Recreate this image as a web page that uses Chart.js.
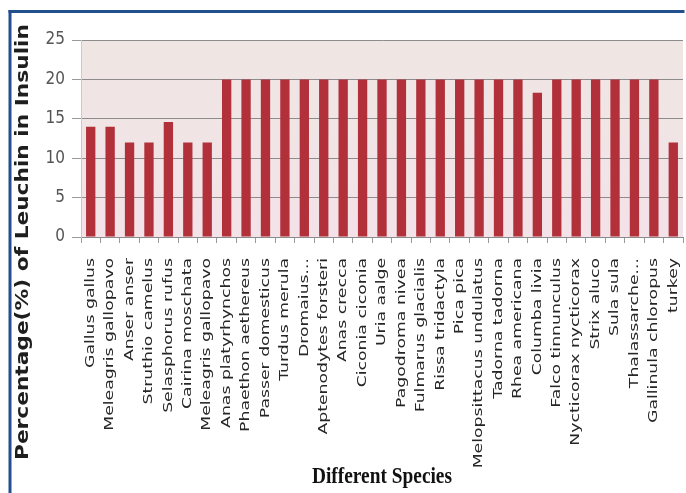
<!DOCTYPE html>
<html>
<head>
<meta charset="utf-8">
<script src="https://cdn.jsdelivr.net/npm/chart.js@4/dist/chart.umd.min.js"></script>
<style>
  html, body { margin: 0; padding: 0; background: #ffffff; overflow: hidden; }
  #wrap { width: 686px; height: 493px; position: relative; }
  #c { display: block; }
</style>
</head>
<body>
<div id="wrap"><canvas id="c" width="686" height="493"></canvas></div>
<script>
// Species along the x axis
const species = [
  "Gallus gallus", "Meleagris gallopavo", "Anser anser", "Struthio camelus",
  "Selasphorus rufus", "Cairina moschata", "Meleagris gallopavo", "Anas platyrhynchos",
  "Phaethon aethereus", "Passer domesticus", "Turdus merula", "Dromaius...",
  "Aptenodytes forsteri", "Anas crecca", "Ciconia ciconia", "Uria aalge",
  "Pagodroma nivea", "Fulmarus glacialis", "Rissa tridactyla", "Pica pica",
  "Melopsittacus undulatus", "Tadorna tadorna", "Rhea americana", "Columba livia",
  "Falco tinnunculus", "Nycticorax nycticorax", "Strix aluco", "Sula sula",
  "Thalassarche...", "Gallinula chloropus", "turkey"
];

// Leucine share in insulin (%)
const leucinePercent = [
  14, 14, 12, 12, 14.6, 12, 12, 20,
  20, 20, 20, 20, 20, 20, 20, 20,
  20, 20, 20, 20, 20, 20, 20, 18.3,
  20, 20, 20, 20, 20, 20, 12
];

// Value axis ticks
const yTicks = [0, 5, 10, 15, 20, 25];

const yTitle = "Percentage(%) of Leuchin in Insulin";
const xTitle = "Different Species";

const narrowFont = '"Liberation Sans Narrow", "DejaVu Sans Condensed", "Liberation Sans", sans-serif';

// Page frame, plot background, species labels and the two axis titles
const decor = {
  id: 'decor',
  beforeDraw(chart) {
    const { ctx, chartArea: a } = chart;
    ctx.save();
    const g = ctx.createLinearGradient(0, a.top, 0, a.bottom);
    g.addColorStop(0, '#efe6e3');
    g.addColorStop(1, '#f3e2e8');
    ctx.fillStyle = g;
    ctx.fillRect(a.left, a.top, a.right - a.left, a.bottom - a.top);
    ctx.restore();
  },
  afterDraw(chart) {
    const { ctx, chartArea: a, height } = chart;
    const xs = chart.scales.x;

    // species names, read bottom-to-top, ending just under the tick marks
    ctx.save();
    ctx.fillStyle = '#262626';
    ctx.font = '12.5px "DejaVu Sans", sans-serif';
    ctx.textAlign = 'right';
    ctx.textBaseline = 'middle';
    species.forEach((name, i) => {
      ctx.save();
      ctx.translate(xs.getPixelForTick(i), a.bottom + 21);
      ctx.rotate(-Math.PI / 2);
      ctx.scale(1.38, 1);
      ctx.fillText(name, 0, 0);
      ctx.restore();
    });
    ctx.restore();

    ctx.save();
    // frame: a band along the top and one down the left side
    ctx.fillStyle = '#22508c';
    ctx.fillRect(8.5, 10, 676, 3);
    ctx.fillRect(8.5, 10, 3, height - 10);

    // y title
    ctx.fillStyle = '#1e1e1e';
    ctx.font = 'bold 17px "DejaVu Sans", sans-serif';
    ctx.textAlign = 'center';
    ctx.textBaseline = 'middle';
    ctx.translate(24, 242);
    ctx.rotate(-Math.PI / 2);
    const tw = ctx.measureText(yTitle).width;
    ctx.scale(436 / tw, 1);
    ctx.fillText(yTitle, 0, 0);
    ctx.restore();

    // x title
    ctx.save();
    ctx.fillStyle = '#111111';
    ctx.font = 'bold 23px "Liberation Serif", "Times New Roman", serif';
    ctx.textAlign = 'center';
    ctx.textBaseline = 'middle';
    ctx.translate((a.left + a.right) / 2, 477);
    const xw = ctx.measureText(xTitle).width;
    ctx.scale(140 / xw, 1);
    ctx.fillText(xTitle, 0, 0);
    ctx.restore();
  }
};

new Chart(document.getElementById('c'), {
  type: 'bar',
  data: {
    labels: species,
    datasets: [{
      data: leucinePercent,
      backgroundColor: '#b1303a',
      borderWidth: 0,
      barPercentage: 0.48,
      categoryPercentage: 1.0
    }]
  },
  options: {
    responsive: false,
    animation: false,
    devicePixelRatio: 1,
    layout: { padding: { top: 40, right: 3, left: 0, bottom: 0 } },
    plugins: { legend: { display: false }, tooltip: { enabled: false } },
    scales: {
      x: {
        afterFit(scale) {
          scale.height = 256;
          scale.paddingLeft = 0;
          scale.paddingRight = 0;
        },
        grid: {
          display: true,
          drawOnChartArea: false,
          drawTicks: true,
          tickLength: 6,
          color: '#9a9a9a',
          offset: true
        },
        border: { display: true, color: '#8a8a8a', width: 1 },
        ticks: { display: false, autoSkip: false }
      },
      y: {
        min: 0,
        max: 25,
        afterFit(scale) {
          scale.width = 81;
          scale.paddingTop = 0;
          scale.paddingBottom = 0;
        },
        afterBuildTicks(scale) { scale.ticks = yTicks.map(v => ({ value: v })); },
        grid: {
          color: '#8c8c8c',
          lineWidth: 1,
          drawTicks: true,
          tickLength: 9,
          tickColor: '#9a9a9a'
        },
        border: { display: true, color: '#cfc6c6', width: 1 },
        ticks: {
          padding: 7,
          color: '#555555',
          font: { family: narrowFont, size: 17 }
        }
      }
    }
  },
  plugins: [decor]
});
</script>
</body>
</html>
